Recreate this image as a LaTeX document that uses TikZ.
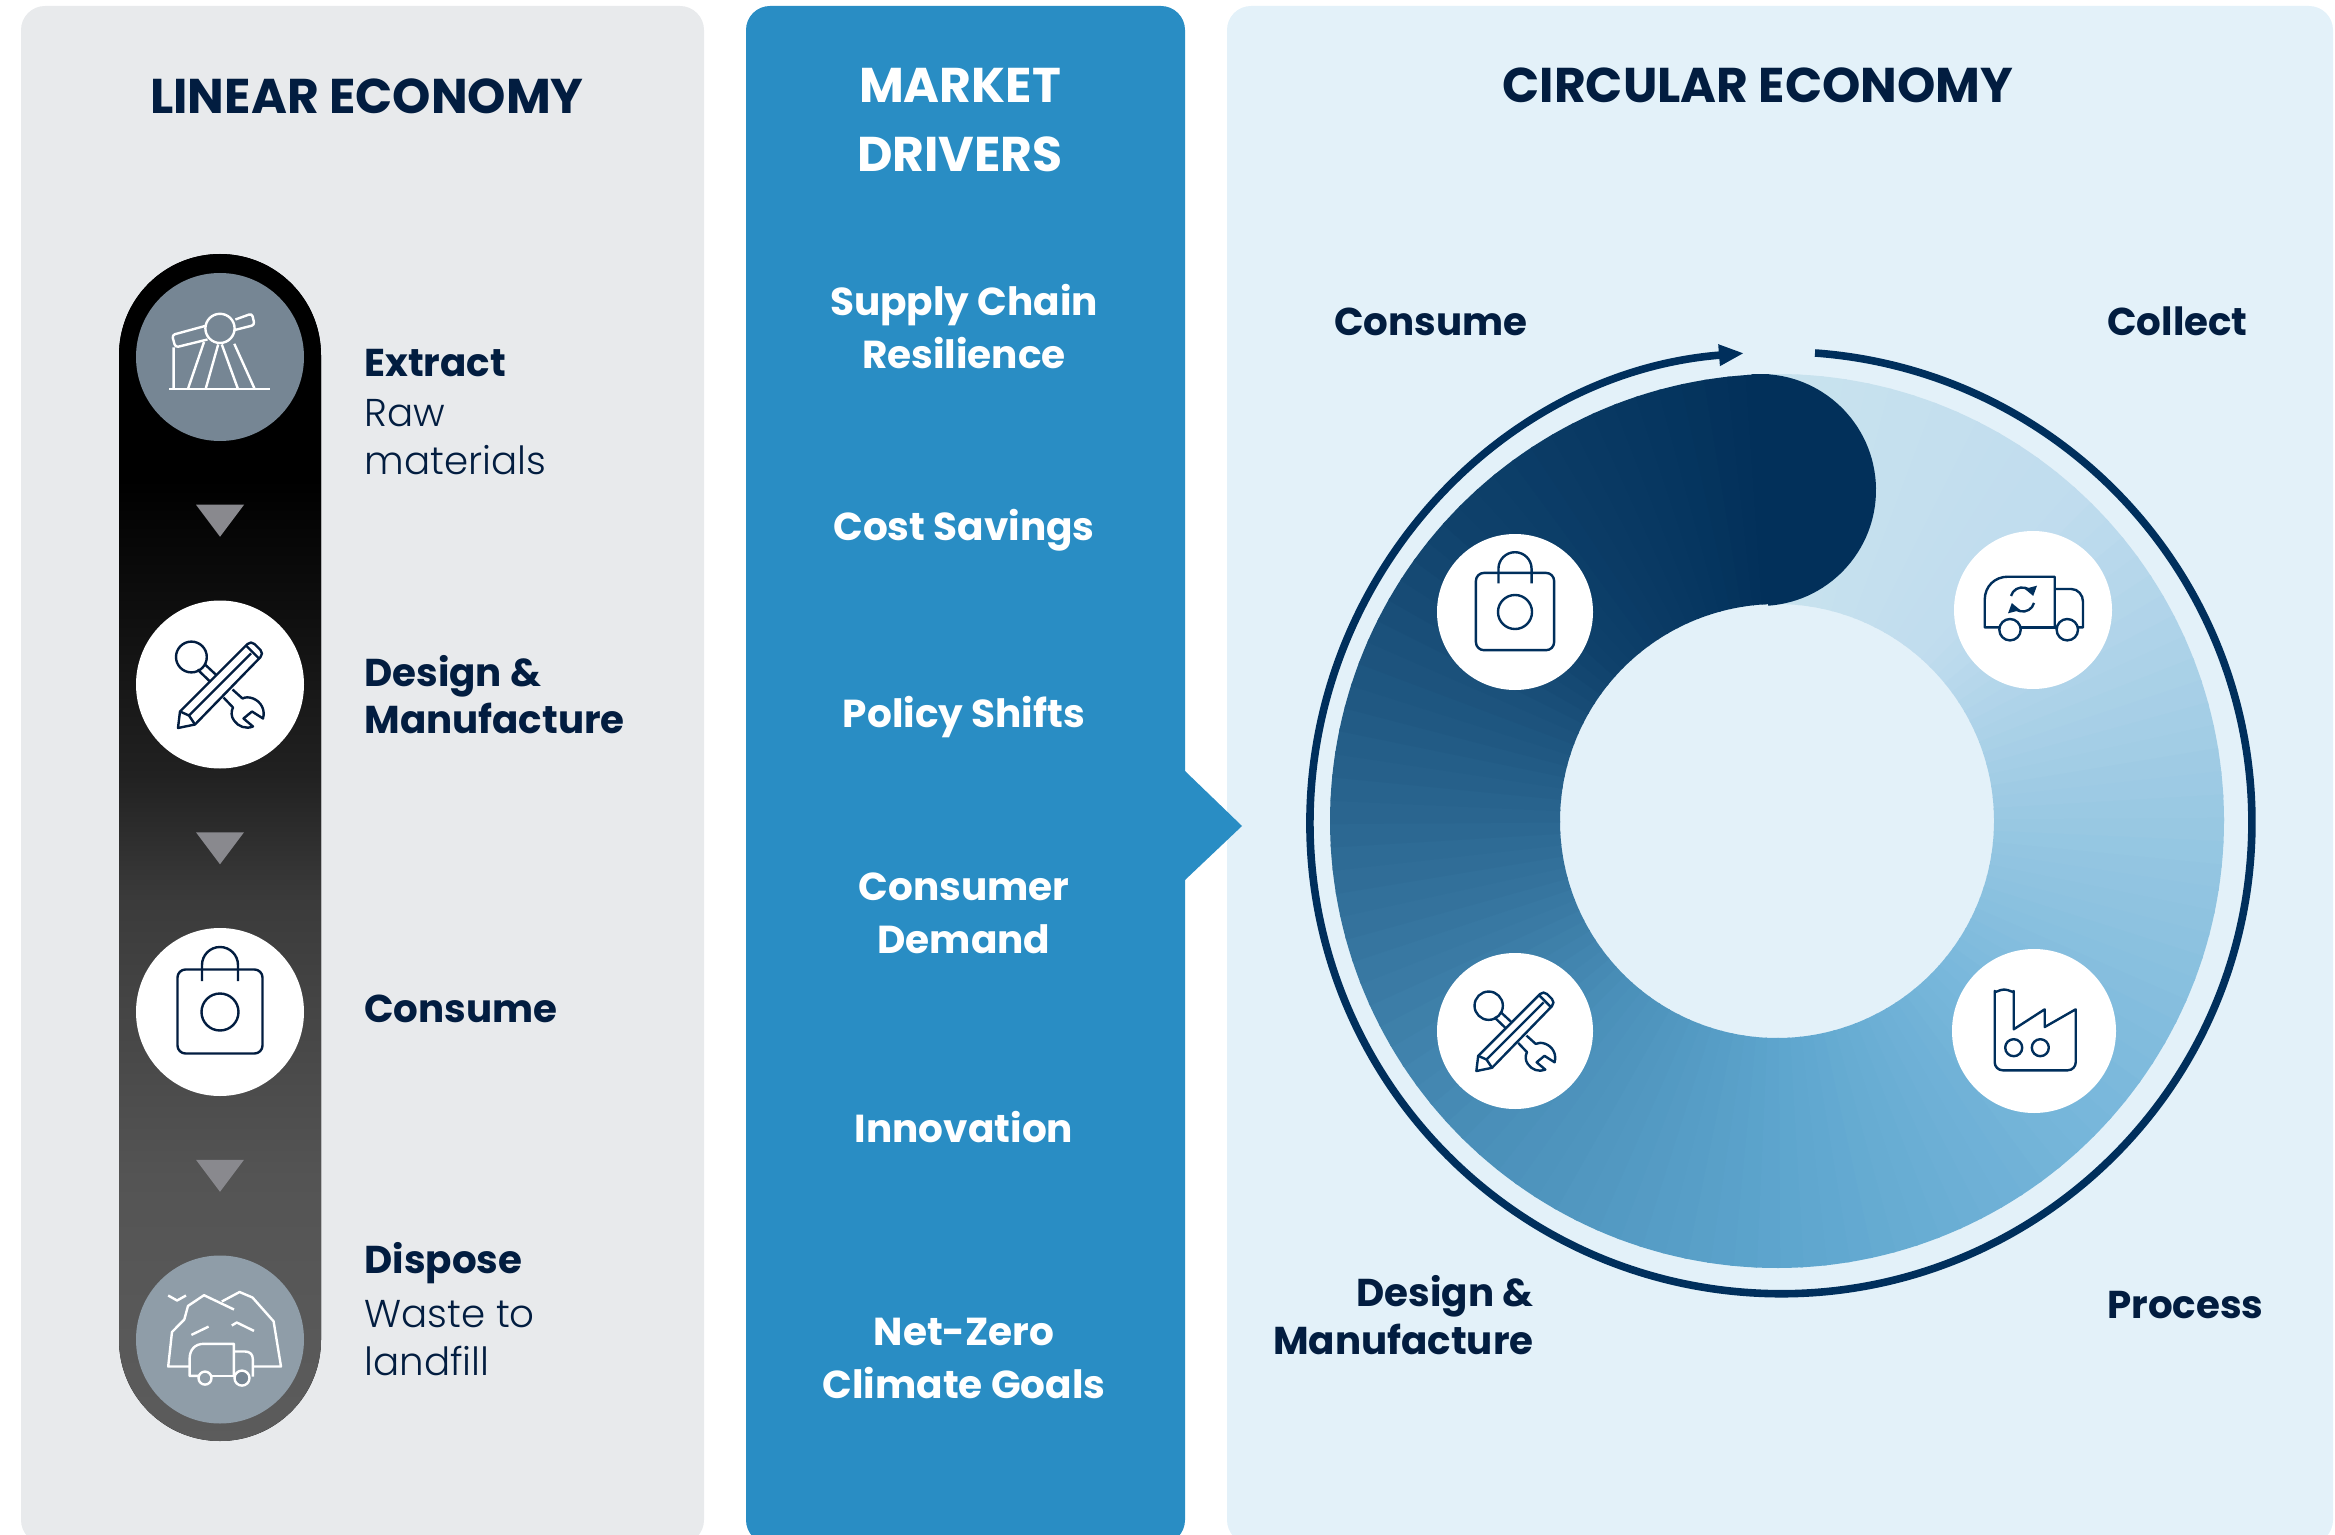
\documentclass[tikz,border=0pt]{standalone}
\usepackage{fontspec}
\setmainfont{Poppins}
\newfontfamily\lightfont{Poppins Light}
\usetikzlibrary{arrows.meta,positioning,calc}

\definecolor{linearbg}{HTML}{E8EAEC}
\definecolor{marketbg}{HTML}{298DC4}
\definecolor{circularbg}{HTML}{E3F1F9}
\definecolor{textnavy}{HTML}{021D40}
\definecolor{loopnavy}{HTML}{002F5C}
\definecolor{extractgrey}{HTML}{768694}
\definecolor{disposegrey}{HTML}{8F9DA8}
\definecolor{tripgrey}{HTML}{89898E}
\definecolor{ringa}{HTML}{C9E3EE}
\definecolor{ringb}{HTML}{C0DCEE}
\definecolor{ringc}{HTML}{9AC9E3}
\definecolor{ringd}{HTML}{78B7DB}
\definecolor{ringe}{HTML}{5EA6CE}
\definecolor{ringf}{HTML}{4A8FB9}
\definecolor{ringg}{HTML}{2C6892}
\definecolor{ringh}{HTML}{0F416B}
\definecolor{ringi}{HTML}{02305A}

\pgfdeclareverticalshading{pillshade}{100bp}{rgb(0bp)=(.36,.36,.36); rgb(25bp)=(.36,.36,.36); rgb(36bp)=(.33,.33,.33); rgb(47.8bp)=(.23,.23,.23); rgb(53bp)=(.13,.13,.13); rgb(65.5bp)=(0,0,0); rgb(100bp)=(0,0,0)}

\tikzset{
  panel/.style={rounded corners=12pt},
  stepdot/.style={circle,inner sep=0pt,outer sep=0pt,minimum size=84pt,fill=white},
  ringdot/.style={circle,inner sep=0pt,outer sep=0pt,fill=white},
  titlelabel/.style={anchor=base,align=center,inner sep=0pt,font=\bfseries\fontsize{24.4}{34.5}\selectfont},
  driverlabel/.style={anchor=base,align=center,inner sep=0pt,text=white,font=\bfseries\fontsize{19.5}{26.5}\selectfont},
  steplabel/.style={anchor=base west,align=left,inner sep=0pt,text=textnavy,font=\fontsize{19.4}{24}\selectfont},
  looplabel/.style={anchor=base west,align=left,inner sep=0pt,text=textnavy,font=\bfseries\fontsize{19.4}{24}\selectfont},
  iconnavy/.style={color=loopnavy,line width=1.2pt,line join=round},
  iconwhite/.style={color=white,line width=1.2pt,line join=round},
  pics/downtri/.style={code={\fill[tripgrey] (-24,-16) -- (24,-16) -- (0,16) -- cycle;}},
  pics/bagicon/.style={code={
    \draw[rounded corners=4pt] (-42.5,-42.5) rectangle (42.5,41.5);
    \draw (-18,-31) -- (-18,-47) arc (180:360:18) -- (18,-31);
    \draw (0,0) circle[radius=18.5];
  }},
  pics/toolicon/.style={code={
    \draw (-28.6,-27.5) circle[radius=15.4];
    \draw (-22.5,-15) -- (-9.5,-2.5) (-15,-20) -- (-3.5,-9.3);
    \draw (3.5,13) -- (13,23) .. controls (11,27) and (11,32) .. (14,36) .. controls (18,42) and (26,45) .. (33,42) -- (23.5,34) -- (32,27) -- (43,34) .. controls (44,30) and (44,26) .. (42,22) .. controls (38,14) and (28,11) .. (22.5,14) -- (12.5,5);
    \draw (-42,43.5) -- (-40,27) [rounded corners=2.5pt] -- (31,-44) -- (44,-31) [sharp corners] -- (-25,40) -- cycle;
    \draw (26,-39) -- (39,-26) (-40,27) -- (-31,31) -- (-25,40) (-31,31) -- (31,-31);
  }},
  pics/pumpicon/.style={code={
    \draw (-50.7,31.8) -- (50,31.8);
    \draw (0,-28.6) circle[radius=14.6];
    \draw[rounded corners=1.5pt] (-15,-31) -- (-48,-22) -- (-44.6,-9.6) -- (-12.5,-17.5);
    \draw[rounded corners=1.5pt] (14,-26.8) -- (34.6,-32) -- (32,-43.5) -- (15.4,-37.5);
    \draw (-46.4,-9.6) -- (-46.4,31.8) (-16,-15) -- (-32,31.8) (-1.8,-12.5) -- (-14.3,31.8) (1.8,-12.5) -- (17.9,31.8) (14.3,-13.2) -- (34.6,31.8);
  }},
  pics/dumpicon/.style={code={
    \draw (-31,27) -- (-51.8,27) -- (-48,-7.5) -- (-35.7,-20) -- (-32,-33.6) -- (-16,-44.3) -- (14,-30);
    \draw (1.8,-38) -- (19.6,-47.5) -- (32.5,-42) -- (53.6,-18.2) -- (61,27) -- (32.5,27);
    \draw (-51.8,-44) -- (-42.9,-39) -- (-34,-44);
    \draw (-28.6,-4.6) -- (-11.4,-12.9) (11.8,-14) -- (16.8,-17) -- (34,-8.6);
    \draw (-8,36.4) -- (-30.4,36.4) -- (-30.4,19.6) .. controls (-30.4,10) and (-25,4.3) .. (-16,4.3) -- (13.9,4.3) -- (13.9,36.4);
    \draw (13.9,12) -- (25,12) .. controls (30,12) and (32.8,15) .. (32.8,19.3) -- (32.8,37);
    \draw (-8,36.4) -- (15,36.4);
    \draw[fill=disposegrey] (-15,38.6) circle[radius=6.5];
    \draw[fill=extractgrey] (22,38.6) circle[radius=7.5];
  }},
  pics/truckicon/.style={code={
    \draw (-34,17.3) -- (-48.3,17.3) -- (-48.3,-10) .. controls (-48.3,-24) and (-38,-33.3) .. (-25,-33.3) -- (21.7,-33.3) -- (21.7,17.3);
    \draw (21.7,-21) -- (38.3,-21) .. controls (45,-21) and (50,-15) .. (50,-8.3) -- (50,17.3) -- (45,17.3);
    \draw (-12.3,17.3) -- (24,17.3);
    \draw (-23,19.7) circle[radius=10.7] (34.3,19.7) circle[radius=10.7];
    \draw[-{Triangle[length=4.5pt,width=6pt]}] (-22,-14) arc (195:345:11.5);
    \draw[-{Triangle[length=4.5pt,width=6pt]}] (1,-7) arc (15:165:11.5);
  }},
  pics/factoryicon/.style={code={
    \draw[rounded corners=4pt] (-20.3,-1.7) -- (-20.3,-32) arc (0:-180:9.5) -- (-39.3,39.3) -- (41.7,39.3) [sharp corners] -- (41.7,-21.7) -- (10.7,-4) -- (10.7,-21.7) -- cycle;
    \draw (-20.3,16.7) circle[radius=8.5] (6.3,16.7) circle[radius=8.5];
  }}
}

\begin{document}
\begin{tikzpicture}[x=.5pt,y=-.5pt,node distance=79.75pt]
  \clip (0,0) rectangle (2335,1535);
  \fill[panel,linearbg] (21,6) rectangle (704,1544);
  \fill[panel,circularbg] (1227,6) rectangle (2333,1544);
  \fill[panel,marketbg] (746,6) rectangle (1185,1544);
  \fill[marketbg] (1185,771) -- (1242,826) -- (1185,880) -- cycle;

  \node[titlelabel,text=textnavy] (lineartitle) at (367,113.5) {LINEAR ECONOMY};
  \node[titlelabel,text=white] (markettitle) at (960,171.5) {MARKET\\DRIVERS};
  \node[titlelabel,text=textnavy] (circulartitle) at (1758,102.5) {CIRCULAR ECONOMY};

  \fill[shading=pillshade,rounded corners=50.5pt] (119,254) rectangle (321,1441);
  \node[stepdot,fill=extractgrey] (extractdot) at (220,357) {};
  \node[stepdot,below=of extractdot] (designdot) {};
  \node[stepdot,below=of designdot] (consumedot) {};
  \node[stepdot,fill=disposegrey,below=of consumedot] (disposedot) {};
  \pic at ($(extractdot)!.5!(designdot)$) {downtri};
  \pic at ($(designdot)!.5!(consumedot)$) {downtri};
  \pic at ($(consumedot)!.5!(disposedot)$) {downtri};
  \pic[iconwhite] at (extractdot) {pumpicon};
  \pic[iconnavy,color=textnavy] at (designdot) {toolicon};
  \pic[iconnavy,color=textnavy] at (consumedot) {bagicon};
  \pic[iconwhite] at (disposedot) {dumpicon};

  \node[steplabel] (extractlabel) at (364,474.5) {\textbf{Extract}\\[1pt]{\lightfont Raw}\\{\lightfont materials}};
  \node[steplabel,font=\bfseries\fontsize{19.4}{23.5}\selectfont] (designlabel) at (364,733) {Design \&\\Manufacture};
  \node[steplabel,font=\bfseries\fontsize{19.4}{24}\selectfont] (consumelabel) at (364,1022) {Consume};
  \node[steplabel] (disposelabel) at (364,1375) {\textbf{Dispose}\\[3pt]{\lightfont Waste to}\\{\lightfont landfill}};

  \node[driverlabel] (supplylabel) at (964,369) {Supply Chain\\Resilience};
  \node[driverlabel] (costlabel) at (964,540) {Cost Savings};
  \node[driverlabel] (policylabel) at (964,727) {Policy Shifts};
  \node[driverlabel] (demandlabel) at (964,953) {Consumer\\Demand};
  \node[driverlabel] (innovationlabel) at (964,1142) {Innovation};
  \node[driverlabel] (netzerolabel) at (964,1398) {Net-Zero\\Climate Goals};

  \foreach \ca/\cb [count=\i from 0] in {ringa/ringb,ringb/ringc,ringc/ringd,ringd/ringe,ringe/ringf,ringf/ringg,ringg/ringh,ringh/ringi}
    \foreach \j in {0,...,14} {
      \pgfmathsetmacro\wedge{266.6+45*\i+3*\j}
      \pgfmathsetmacro\share{100-\j*100/15}
      \fill[\ca!\share!\cb] (1777,821) ++(\wedge:447) arc (\wedge:\wedge+3.4:447) -- ++(\wedge+3.4:-230) arc (\wedge+3.4:\wedge:217) -- cycle;
    }
  \fill[ringi] (1777,821) ++(266:447) arc (266:269:447) -- ++(269:-230) arc (269:266:217) -- cycle;
  \fill[ringi] (1760,490) ++(266:116) arc (266:446:116) -- cycle;

  \coordinate (loopstart) at (1815,353);
  \draw[loopnavy,line width=3.8pt,-{Triangle[length=12.5pt,width=10pt]}] (loopstart) arc (274.15:625.5:471);

  \node[ringdot,minimum size=78pt] (bagdot) at (1515,612) {};
  \node[ringdot,minimum size=79pt] (truckdot) at (2033,610) {};
  \node[ringdot,minimum size=78pt] (tooldot) at (1515,1031) {};
  \node[ringdot,minimum size=82pt] (factorydot) at (2034,1031) {};
  \pic[iconnavy,scale=.92] at (bagdot) {bagicon};
  \pic[iconnavy] at (truckdot) {truckicon};
  \pic[iconnavy,scale=.92] at (tooldot) {toolicon};
  \pic[iconnavy] at (factorydot) {factoryicon};

  \node[looplabel] (loopconsume) at (1334,336) {Consume};
  \node[looplabel] (loopcollect) at (2107,336) {Collect};
  \node[looplabel,anchor=base east,align=right] (loopdesign) at (1534,1354) {Design \&\\Manufacture};
  \node[looplabel] (loopprocess) at (2107,1318) {Process};
\end{tikzpicture}
\end{document}
